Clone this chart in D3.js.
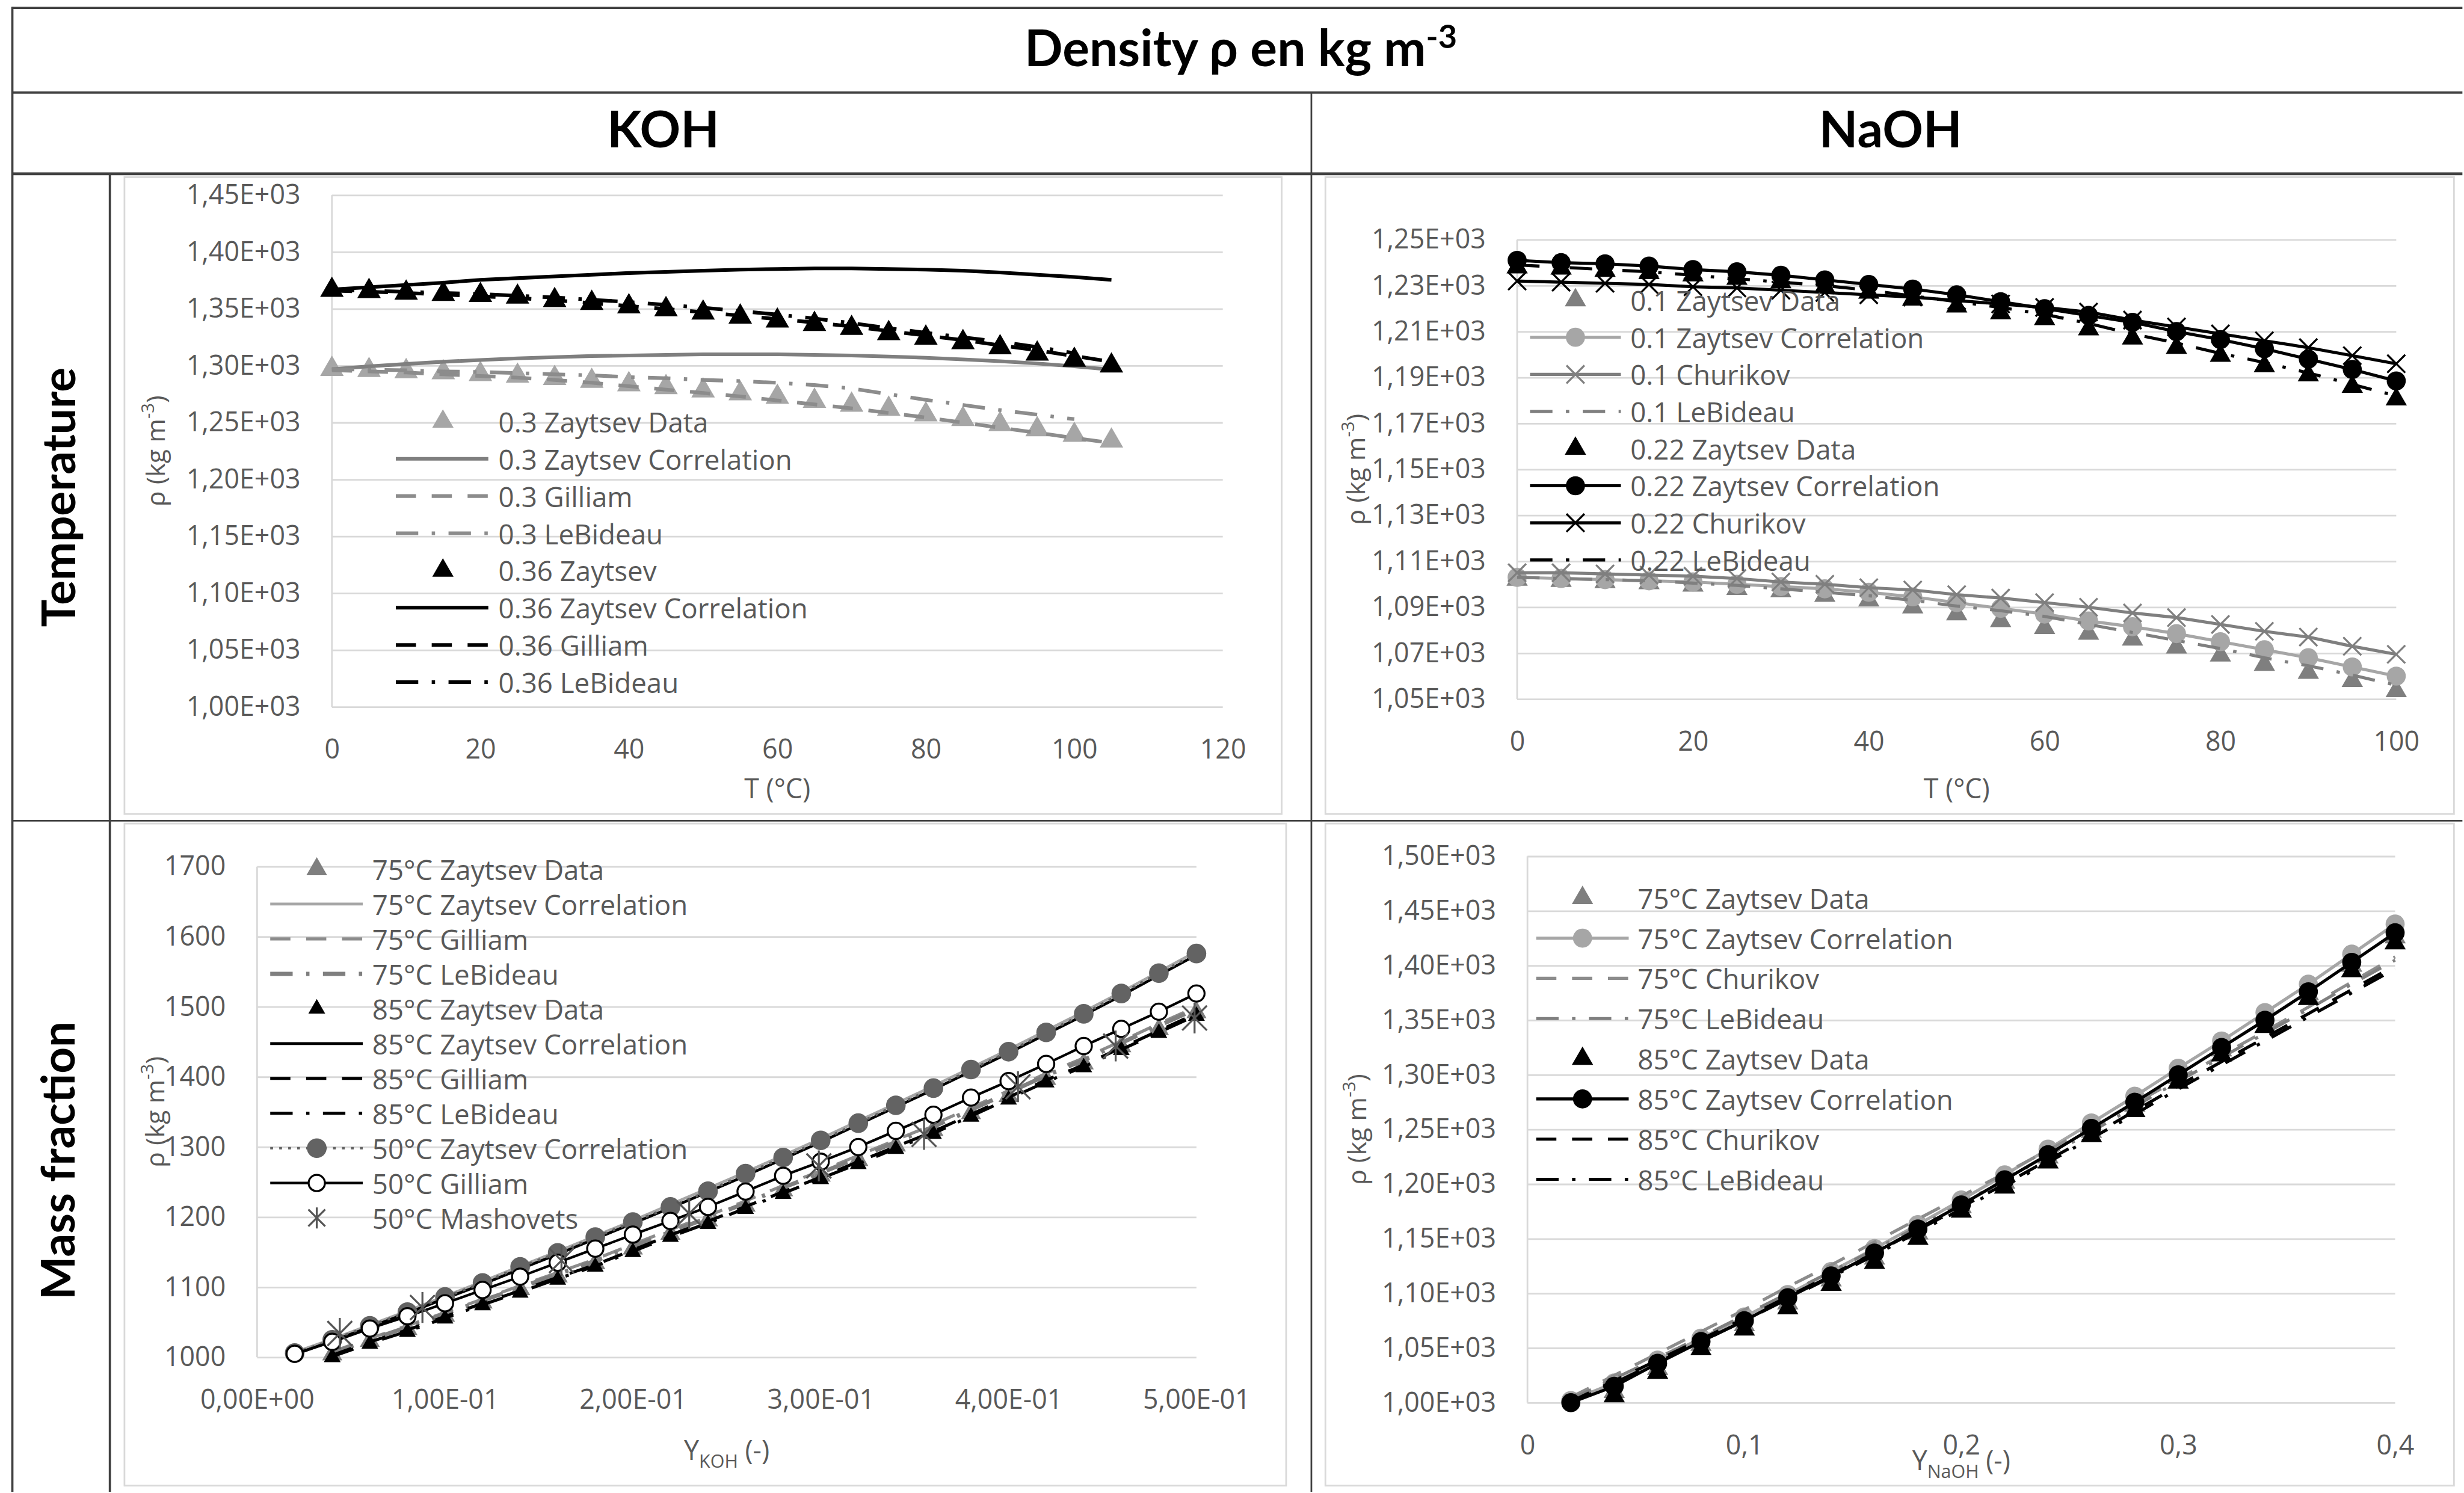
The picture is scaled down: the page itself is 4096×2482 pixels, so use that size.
<!DOCTYPE html>
<html>
<head>
<meta charset="utf-8">
<script src="https://cdn.jsdelivr.net/npm/d3@7"></script>
<style>body{margin:0;background:#fff}</style>
</head>
<body>
<div id="chart"></div>
<script>
// ---- KOH, temperature (T in °C) ----
const kohT = [0,5,10,15,20,25,30,35,40,45,50,55,60,65,70,75,80,85,90,95,100,105];
const kohT100 = [0,5,10,15,20,25,30,35,40,45,50,55,60,65,70,75,80,85,90,95,100];
const koh03Data = [1297,1296,1295,1294,1292.5,1291,1289,1286.5,1283.5,1281,1278,1275.5,1272.5,1269,1265.5,1262,1257,1253,1248.5,1244,1239,1234];
const koh03Corr = [1297,1299.5,1301.5,1303.5,1305,1306.5,1307.5,1308.5,1309,1309.5,1310,1310,1310,1309.5,1309,1308,1307,1305.5,1304,1302,1299.5,1296.5];
const koh03Gilliam = [1296,1295,1294,1292.5,1291,1289.5,1287.5,1285,1282,1279,1276,1273,1269.5,1266,1262.5,1258.5,1254.5,1250,1245.5,1241,1236.5,1232];
const koh03LeBideau = [1297,1296.5,1296,1295,1294.5,1293.5,1292.5,1291.5,1290,1289,1287.5,1286.5,1285,1283,1280,1275,1270,1265.5,1261,1257,1253];
const koh36Data = [1366.5,1365.5,1364,1363,1362,1360.5,1357.5,1355,1352,1349.5,1346.5,1343,1339.5,1336.5,1333,1328.5,1324.5,1320.5,1316,1310.5,1305,1300];
const koh36Corr = [1367,1369,1371,1373,1375.5,1377,1378.5,1380,1381.5,1382.5,1383.5,1384.5,1385,1385.5,1385.5,1385,1384.5,1383.5,1382,1380,1378,1375.5];
const koh36Gilliam = [1366,1365,1364,1362.5,1361,1359.5,1357.5,1355,1352.5,1350,1347,1344,1341,1338,1334.5,1330.5,1326.5,1322.5,1318,1313.5,1308.5,1303.5];
const koh36LeBideau = [1366.5,1366,1365,1364,1363,1361.5,1360,1358,1356,1353.5,1351,1348,1345,1341.5,1337.5,1333,1329,1325,1321,1316.5,1311];

// ---- NaOH, temperature ----
const naohT = [0,5,10,15,20,25,30,35,40,45,50,55,60,65,70,75,80,85,90,95,100];
const naoh01Data = [1102,1101.5,1101,1100.5,1099.5,1098,1097,1095,1093,1090,1087,1084,1081,1078.5,1076,1072.5,1069,1065,1061.5,1058,1053.5];
const naoh01Corr = [1103,1102.5,1102,1101.5,1101,1100,1099,1098,1096.5,1094.5,1092,1089.5,1087,1084,1081.5,1078.5,1075,1071.5,1068,1064,1060];
const naoh01Churikov = [1105,1105,1104.5,1104,1103.5,1102.5,1101,1100,1098.5,1097.5,1095.5,1094,1092,1090,1087.5,1085.5,1082.5,1079.5,1077,1073,1069.5];
const naoh01LeBideau = [1103,1102.5,1102,1101.5,1100.5,1099.5,1098,1096.5,1095,1093,1090.5,1088.5,1086,1082.5,1079,1075.5,1072,1068,1064.5,1060.5,1056];
const naoh022Data = [1238,1237.5,1236.5,1235.5,1234.5,1233,1231.5,1229.5,1227,1224,1221,1218,1215.5,1211,1207,1203,1199.5,1195,1191,1186,1180.5];
const naoh022Corr = [1241,1240,1239.5,1238.5,1237,1236,1234.5,1232.5,1230.5,1228.5,1226,1223,1220,1217,1214,1210,1206.5,1202.5,1198,1193.5,1188.5];
const naoh022Churikov = [1232,1231.5,1231,1230.5,1229.5,1229,1228,1227,1226,1225,1223.5,1222,1220.5,1218.5,1215,1212,1209,1206,1203,1199.5,1196];
const naoh022LeBideau = [1239,1238,1237,1236,1234.5,1233,1231.5,1230,1228,1225.5,1223,1220.5,1217.5,1213.5,1209,1205,1200.5,1196.5,1192,1187,1182];

// ---- KOH, mass fraction ----
const kohY = [0.02,0.04,0.06,0.08,0.10,0.12,0.14,0.16,0.18,0.20,0.22,0.24,0.26,0.28,0.30,0.32,0.34,0.36,0.38,0.40,0.42,0.44,0.46,0.48,0.50];
const kohY2 = [0.04,0.06,0.08,0.10,0.12,0.14,0.16,0.18,0.20,0.22,0.24,0.26,0.28,0.30,0.32,0.34,0.36,0.38,0.40,0.42,0.44,0.46,0.48,0.50];
const ko75Data = [1004,1023,1040,1059,1078,1097,1115,1134,1155,1176,1195,1216,1238,1259,1281,1302,1324,1348,1372.5,1397,1419,1443.5,1468,1492];
const ko75Corr = [1007,1026,1046,1066,1087,1108,1130,1151,1173,1195,1218,1241,1264,1288,1312,1337,1362,1387,1413,1439,1466,1493,1521,1550,1579];
const ko75Gilliam = [1008,1027,1045,1064,1083,1102,1121,1140,1161,1182,1202,1223,1245,1266,1288,1310,1332,1356,1380.5,1405,1427,1451,1476,1500];
const ko75LeBideau = [1006,1025,1043,1062,1081,1099.5,1118.5,1137.5,1158,1179,1199,1220,1242,1263,1285,1307,1329,1353,1377.5,1402,1424,1448.5,1473,1497];
const ko85Data = [1000,1019,1036,1055,1074,1092,1110.5,1129,1150,1171.5,1190,1211.5,1233,1254,1275.5,1297,1318.5,1343,1367.5,1392,1413.5,1438,1462.5,1487];
const ko85Corr = [1004,1023,1043,1063,1084,1104,1126,1147,1169,1191,1213,1236,1259,1283,1307,1332,1357,1382,1408,1434,1461,1488,1516,1545,1574];
const ko85Gilliam = [1003,1022,1039,1058,1077,1095,1114,1132,1153,1174.5,1194,1215,1236,1257,1279,1300.5,1322,1346.5,1371,1395.5,1417,1441.5,1466,1490.5];
const ko85LeBideau = [1001,1020,1037,1056,1075,1093,1112,1130,1151,1172,1191.5,1212.5,1234,1255,1276,1298,1319.5,1344,1368.5,1393,1414.5,1439,1463.5,1488];
const ko50Corr = [1006,1025,1045,1064.5,1086,1106,1129,1149,1171.5,1193,1214.5,1237,1262,1285,1309.5,1334,1359.5,1384,1410.5,1436,1463.5,1490,1519,1548,1576];
const ko50Gilliam = [1005,1022,1041,1058.5,1077,1096,1115,1135,1155,1175,1194.5,1214.5,1236.5,1259,1279,1300,1323,1346,1370.5,1394,1418.5,1444,1468.5,1493,1519];
const mashY = [0.044,0.088,0.162,0.23,0.299,0.355,0.405,0.457,0.499];
const mashRho = [1034,1071,1138,1205,1273,1318,1386,1444,1484];

// ---- NaOH, mass fraction ----
const naohY = [0.02,0.04,0.06,0.08,0.10,0.12,0.14,0.16,0.18,0.20,0.22,0.24,0.26,0.28,0.30,0.32,0.34,0.36,0.38,0.40];
const naohY2 = [0.04,0.06,0.08,0.10,0.12,0.14,0.16,0.18,0.20,0.22,0.24,0.26,0.28,0.30,0.32,0.34,0.36,0.38,0.40];
const na75Data = [1010,1031,1053,1071,1091,1112,1132,1155,1179,1201.5,1224.5,1248,1272,1297.5,1322.5,1349,1374,1400,1426];
const na75Corr = [1002,1018,1039,1059,1078.5,1099,1120,1141,1163,1185.5,1208.5,1232,1256,1280.5,1306,1331,1357,1383,1410.5,1438];
const na75Churikov = [1005,1025,1045,1065,1085,1106,1126,1147,1168,1189,1210,1231,1252,1274,1296,1318,1340,1362,1385,1408];
const na75LeBideau = [1003,1022,1041,1060,1080,1100,1120,1140,1161,1182,1204,1226,1248,1271,1294,1316,1338,1360,1383,1405];
const na85Data = [1006,1027.5,1049,1067,1086.5,1108,1128,1150,1175,1197,1220,1244,1267,1293,1318,1344,1369.5,1395,1420.5];
const na85Corr = [1000,1015,1036,1056,1075,1096,1116,1137,1159,1181,1204,1227,1251,1275,1300,1325,1350,1376,1403,1430];
const na85Churikov = [1001,1020,1039,1058,1077,1097,1117,1137,1158,1179,1200,1222,1244,1267,1290,1312,1334,1356,1378,1400];
const na85LeBideau = [1000,1018,1037,1056,1075,1095,1115,1135,1156,1177,1198,1220,1242,1264,1287,1309,1331,1353,1375,1397];

// ---- ticks ----
const tlYTicks = [1000,1050,1100,1150,1200,1250,1300,1350,1400,1450];
const tlYLabels = ["1,00E+03","1,05E+03","1,10E+03","1,15E+03","1,20E+03","1,25E+03","1,30E+03","1,35E+03","1,40E+03","1,45E+03"];
const tlXTicks = [0,20,40,60,80,100,120];
const tlXLabels = ["0","20","40","60","80","100","120"];
const trYTicks = [1050,1070,1090,1110,1130,1150,1170,1190,1210,1230,1250];
const trYLabels = ["1,05E+03","1,07E+03","1,09E+03","1,11E+03","1,13E+03","1,15E+03","1,17E+03","1,19E+03","1,21E+03","1,23E+03","1,25E+03"];
const trXTicks = [0,20,40,60,80,100];
const trXLabels = ["0","20","40","60","80","100"];
const blYTicks = [1000,1100,1200,1300,1400,1500,1600,1700];
const blYLabels = ["1000","1100","1200","1300","1400","1500","1600","1700"];
const blXTicks = [0,0.1,0.2,0.3,0.4,0.5];
const blXLabels = ["0,00E+00","1,00E-01","2,00E-01","3,00E-01","4,00E-01","5,00E-01"];
const brYTicks = [1000,1050,1100,1150,1200,1250,1300,1350,1400,1450,1500];
const brYLabels = ["1,00E+03","1,05E+03","1,10E+03","1,15E+03","1,20E+03","1,25E+03","1,30E+03","1,35E+03","1,40E+03","1,45E+03","1,50E+03"];
const brXTicks = [0,0.1,0.2,0.3,0.4];
const brXLabels = ["0","0,1","0,2","0,3","0,4"];

// Couleurs et polices
const LIGHT = "#a6a6a6", MID = "#7f7f7f", DARK = "#636363", BLACK = "#000000";
const TXT = "#595959";
const FONT = "'Open Sans', 'DejaVu Sans', sans-serif";
const HEAD = "Lato, 'Open Sans', sans-serif";
const DASH = {solid: null, dash: "36,28", dashdot: "40,24,6,24", dot: "5,11"};

const svg = d3.select("#chart").append("svg")
    .attr("width", 4096)
    .attr("height", 2482);
svg.append("rect").attr("width", 4096).attr("height", 2482).attr("fill", "#fff");
const root = svg.append("g").attr("transform", "scale(0.932)");

// Lignes du tableau
const tableCol = "#404040";
[
    [22, 14, 4392, 14, 4],
    [22, 165, 4392, 165, 4],
    [22, 310, 4392, 310, 5],
    [22, 1464, 4392, 1464, 3],
    [22, 12, 22, 2661, 4],
    [196, 310, 196, 2661, 4],
    [2339, 165, 2339, 2661, 3]
].forEach(l => {
    root.append("line")
        .attr("x1", l[0]).attr("y1", l[1]).attr("x2", l[2]).attr("y2", l[3])
        .attr("stroke", tableCol).attr("stroke-width", l[4]);
});

// Titres du tableau
const title = root.append("text")
    .attr("x", 2213).attr("y", 118)
    .attr("text-anchor", "middle")
    .attr("font-family", HEAD).attr("font-weight", "bold").attr("font-size", 90)
    .attr("fill", "#000");
title.append("tspan").text("Density ρ en kg m");
title.append("tspan").text("-3").attr("font-size", 58).attr("dy", -32);

[["KOH", 1183], ["NaOH", 3372]].forEach(h => {
    root.append("text")
        .attr("x", h[1]).attr("y", 263)
        .attr("text-anchor", "middle")
        .attr("font-family", HEAD).attr("font-weight", "bold").attr("font-size", 90)
        .attr("fill", "#000")
        .text(h[0]);
});

[["Temperature", 134, 887], ["Mass fraction", 133, 2070]].forEach(r => {
    root.append("text")
        .attr("transform", `translate(${r[1]},${r[2]}) rotate(-90)`)
        .attr("text-anchor", "middle")
        .attr("font-family", HEAD).attr("font-weight", "bold").attr("font-size", 82)
        .attr("fill", "#000")
        .text(r[0]);
});

// Marqueurs
function markerD(type, size) {
    const h = size / 2;
    if (type === "tri") return d3.symbol(d3.symbolTriangle, 0.433 * size * size)();
    if (type === "circle" || type === "ocircle") return d3.symbol(d3.symbolCircle, Math.PI * h * h)();
    if (type === "x") return `M${-h},${-h}L${h},${h}M${-h},${h}L${h},${-h}`;
    return `M${-h},${-h}L${h},${h}M${-h},${h}L${h},${-h}M0,${-h * 1.25}L0,${h * 1.25}`;
}
function styleMarker(sel, s) {
    if (s.marker === "x" || s.marker === "star") {
        sel.attr("fill", "none").attr("stroke", s.mcolor || s.color).attr("stroke-width", 3.5);
    } else if (s.marker === "ocircle") {
        sel.attr("fill", "#fff").attr("stroke", s.color).attr("stroke-width", 3.5);
    } else {
        sel.attr("fill", s.mcolor || s.color);
    }
}

function addParts(textSel, parts, fs) {
    let shift = 0;
    parts.forEach(p => {
        const ts = textSel.append("tspan").text(p.t);
        let want = 0, size = fs;
        if (p.sub) { want = fs * 0.3; size = fs * 0.68; }
        if (p.sup) { want = -fs * 0.42; size = fs * 0.68; }
        ts.attr("font-size", size).attr("dy", want - shift);
        shift = want;
    });
}

function drawPanel(p) {
    const g = root.append("g");
    g.append("rect")
        .attr("x", p.box[0]).attr("y", p.box[1])
        .attr("width", p.box[2] - p.box[0]).attr("height", p.box[3] - p.box[1])
        .attr("fill", "none").attr("stroke", "#d9d9d9").attr("stroke-width", 3);

    const x = d3.scaleLinear().domain(p.xDom).range([p.plot[0], p.plot[1]]);
    const y = d3.scaleLinear().domain(p.yDom).range([p.plot[3], p.plot[2]]);

    // Axe Y + grille
    const ya = g.append("g")
        .attr("transform", `translate(${p.plot[0]},0)`)
        .call(d3.axisLeft(y).tickValues(p.yTicks).tickSize(-(p.plot[1] - p.plot[0])).tickPadding(56)
            .tickFormat((d, i) => p.yLabels[i]));
    ya.select(".domain").remove();
    ya.selectAll(".tick line").attr("stroke", "#d9d9d9").attr("stroke-width", 3);
    ya.selectAll(".tick text").attr("fill", TXT).attr("font-size", 48).attr("font-family", FONT);

    g.append("line")
        .attr("x1", p.plot[0]).attr("x2", p.plot[0])
        .attr("y1", p.plot[2]).attr("y2", p.plot[3])
        .attr("stroke", "#d9d9d9").attr("stroke-width", 3);

    // Axe X
    const xa = g.append("g")
        .attr("transform", `translate(0,${p.plot[3]})`)
        .call(d3.axisBottom(x).tickValues(p.xTicks).tickSize(0).tickPadding(58)
            .tickFormat((d, i) => p.xLabels[i]));
    xa.select(".domain").remove();
    xa.selectAll(".tick text").attr("fill", TXT).attr("font-size", 48).attr("font-family", FONT);

    // Titres des axes
    const xt = g.append("text")
        .attr("x", (p.plot[0] + p.plot[1]) / 2).attr("y", p.xTitleY)
        .attr("text-anchor", "middle")
        .attr("font-family", FONT).attr("fill", TXT).attr("font-size", 48);
    addParts(xt, p.xTitle, 48);

    const yt = g.append("text")
        .attr("transform", `translate(${p.yTitleX},${(p.plot[2] + p.plot[3]) / 2}) rotate(-90)`)
        .attr("text-anchor", "middle")
        .attr("font-family", FONT).attr("fill", TXT).attr("font-size", 46);
    addParts(yt, [{t: "ρ (kg m"}, {t: "-3", sup: true}, {t: ")"}], 46);

    // Series
    p.series.forEach(s => {
        const pts = s.xs.map((v, i) => [x(v), y(s.ys[i])]);
        if (s.line) {
            g.append("path")
                .attr("d", d3.line()(pts))
                .attr("fill", "none")
                .attr("stroke", s.color)
                .attr("stroke-width", s.lw)
                .attr("stroke-linejoin", "round")
                .attr("stroke-dasharray", DASH[s.line]);
        }
        if (s.marker) {
            g.selectAll(null)
                .data(pts)
                .enter()
                .append("path")
                .attr("transform", d => `translate(${d[0]},${d[1]})`)
                .attr("d", markerD(s.marker, s.size))
                .call(styleMarker, s);
        }
    });

    // Legende
    p.series.forEach((s, i) => {
        const ly = p.leg.y0 + i * p.leg.dy;
        if (s.line) {
            g.append("line")
                .attr("x1", p.leg.x1).attr("x2", p.leg.x2)
                .attr("y1", ly).attr("y2", ly)
                .attr("stroke", s.color).attr("stroke-width", s.lw)
                .attr("stroke-dasharray", DASH[s.line]);
        }
        if (s.marker) {
            g.append("path")
                .attr("transform", `translate(${p.leg.xm},${ly})`)
                .attr("d", markerD(s.marker, s.lsize || s.size))
                .call(styleMarker, s);
        }
        g.append("text")
            .attr("x", p.leg.xt).attr("y", ly)
            .attr("dominant-baseline", "central")
            .attr("font-family", FONT).attr("font-size", 49).attr("fill", TXT)
            .text(s.name);
    });
}

const tTitle = [{t: "T (°C)"}];

drawPanel({
    box: [222, 316, 2286, 1452], plot: [592, 2181, 348, 1261],
    xDom: [0, 120], yDom: [1000, 1450],
    xTicks: tlXTicks, xLabels: tlXLabels, yTicks: tlYTicks, yLabels: tlYLabels,
    xTitle: tTitle, xTitleY: 1424, yTitleX: 294,
    leg: {y0: 752, dy: 66.4, x1: 706, x2: 871, xm: 790, xt: 889},
    series: [
        {name: "0.3 Zaytsev Data", xs: kohT, ys: koh03Data, color: LIGHT, marker: "tri", size: 42, lsize: 38},
        {name: "0.3 Zaytsev Correlation", xs: kohT, ys: koh03Corr, color: MID, line: "solid", lw: 6.5},
        {name: "0.3 Gilliam", xs: kohT, ys: koh03Gilliam, color: "#8c8c8c", line: "dash", lw: 6.5},
        {name: "0.3 LeBideau", xs: kohT100, ys: koh03LeBideau, color: "#8c8c8c", line: "dashdot", lw: 6.5},
        {name: "0.36 Zaytsev", xs: kohT, ys: koh36Data, color: BLACK, marker: "tri", size: 42, lsize: 38},
        {name: "0.36 Zaytsev Correlation", xs: kohT, ys: koh36Corr, color: BLACK, line: "solid", lw: 6.5},
        {name: "0.36 Gilliam", xs: kohT, ys: koh36Gilliam, color: BLACK, line: "dash", lw: 6.5},
        {name: "0.36 LeBideau", xs: kohT100, ys: koh36LeBideau, color: BLACK, line: "dashdot", lw: 6.5}
    ]
});

drawPanel({
    box: [2364, 316, 4377, 1452], plot: [2706, 4274, 427.5, 1247],
    xDom: [0, 100], yDom: [1050, 1250],
    xTicks: trXTicks, xLabels: trXLabels, yTicks: trYTicks, yLabels: trYLabels,
    xTitle: tTitle, xTitleY: 1424, yTitleX: 2435,
    leg: {y0: 535.4, dy: 66.2, x1: 2729, x2: 2891, xm: 2810, xt: 2908},
    series: [
        {name: "0.1 Zaytsev Data", xs: naohT, ys: naoh01Data, color: MID, marker: "tri", size: 38},
        {name: "0.1 Zaytsev Correlation", xs: naohT, ys: naoh01Corr, color: LIGHT, line: "solid", lw: 5.5, marker: "circle", size: 34},
        {name: "0.1 Churikov", xs: naohT, ys: naoh01Churikov, color: MID, line: "solid", lw: 5.5, marker: "x", size: 32},
        {name: "0.1 LeBideau", xs: naohT, ys: naoh01LeBideau, color: MID, line: "dashdot", lw: 5.5},
        {name: "0.22 Zaytsev Data", xs: naohT, ys: naoh022Data, color: BLACK, marker: "tri", size: 38},
        {name: "0.22 Zaytsev Correlation", xs: naohT, ys: naoh022Corr, color: BLACK, line: "solid", lw: 5.5, marker: "circle", size: 34},
        {name: "0.22 Churikov", xs: naohT, ys: naoh022Churikov, color: BLACK, line: "solid", lw: 5.5, marker: "x", size: 32},
        {name: "0.22 LeBideau", xs: naohT, ys: naoh022LeBideau, color: BLACK, line: "dashdot", lw: 5.5}
    ]
});

drawPanel({
    box: [222, 1469, 2294, 2650], plot: [458.6, 2134, 1545.8, 2421],
    xDom: [0, 0.5], yDom: [1000, 1700],
    xTicks: blXTicks, xLabels: blXLabels, yTicks: blYTicks, yLabels: blYLabels,
    xTitle: [{t: "Y"}, {t: "KOH", sub: true}, {t: " (-)"}], xTitleY: 2604, yTitleX: 293,
    leg: {y0: 1550.4, dy: 62.2, x1: 482, x2: 647, xm: 565, xt: 664},
    series: [
        {name: "75°C Zaytsev Data", xs: kohY2, ys: ko75Data, color: MID, marker: "tri", size: 36, lsize: 37},
        {name: "75°C Zaytsev Correlation", xs: kohY, ys: ko75Corr, color: LIGHT, line: "solid", lw: 5},
        {name: "75°C Gilliam", xs: kohY2, ys: ko75Gilliam, color: "#8c8c8c", line: "dash", lw: 5.5},
        {name: "75°C LeBideau", xs: kohY2, ys: ko75LeBideau, color: MID, line: "dashdot", lw: 7.5},
        {name: "85°C Zaytsev Data", xs: kohY2, ys: ko85Data, color: BLACK, marker: "tri", size: 30, lsize: 30},
        {name: "85°C Zaytsev Correlation", xs: kohY, ys: ko85Corr, color: BLACK, line: "solid", lw: 5},
        {name: "85°C Gilliam", xs: kohY2, ys: ko85Gilliam, color: BLACK, line: "dash", lw: 5.5},
        {name: "85°C LeBideau", xs: kohY2, ys: ko85LeBideau, color: BLACK, line: "dashdot", lw: 5.5},
        {name: "50°C Zaytsev Correlation", xs: kohY, ys: ko50Corr, color: DARK, line: "dot", lw: 4.5, marker: "circle", size: 35},
        {name: "50°C Gilliam", xs: kohY, ys: ko50Gilliam, color: BLACK, line: "solid", lw: 4.5, marker: "ocircle", size: 29},
        {name: "50°C Mashovets", xs: mashY, ys: mashRho, color: "#555555", marker: "star", size: 44, lsize: 30}
    ]
});

drawPanel({
    box: [2364, 1469, 4377, 2650], plot: [2724.4, 4272, 1527.4, 2502],
    xDom: [0, 0.4], yDom: [1000, 1500],
    xTicks: brXTicks, xLabels: brXLabels, yTicks: brYTicks, yLabels: brYLabels,
    xTitle: [{t: "Y"}, {t: "NaOH", sub: true}, {t: " (-)"}], xTitleY: 2622, yTitleX: 2437,
    leg: {y0: 1601.7, dy: 71.7, x1: 2740, x2: 2905, xm: 2822.6, xt: 2921},
    series: [
        {name: "75°C Zaytsev Data", xs: naohY2, ys: na75Data, color: MID, marker: "tri", size: 38},
        {name: "75°C Zaytsev Correlation", xs: naohY, ys: na75Corr, color: LIGHT, line: "solid", lw: 5.5, marker: "circle", size: 34},
        {name: "75°C Churikov", xs: naohY, ys: na75Churikov, color: "#8c8c8c", line: "dash", lw: 5.5},
        {name: "75°C LeBideau", xs: naohY, ys: na75LeBideau, color: MID, line: "dashdot", lw: 5.5},
        {name: "85°C Zaytsev Data", xs: naohY2, ys: na85Data, color: BLACK, marker: "tri", size: 38},
        {name: "85°C Zaytsev Correlation", xs: naohY, ys: na85Corr, color: BLACK, line: "solid", lw: 5.5, marker: "circle", size: 34},
        {name: "85°C Churikov", xs: naohY, ys: na85Churikov, color: BLACK, line: "dash", lw: 5.5},
        {name: "85°C LeBideau", xs: naohY, ys: na85LeBideau, color: BLACK, line: "dashdot", lw: 5.5}
    ]
});
</script>
</body>
</html>
